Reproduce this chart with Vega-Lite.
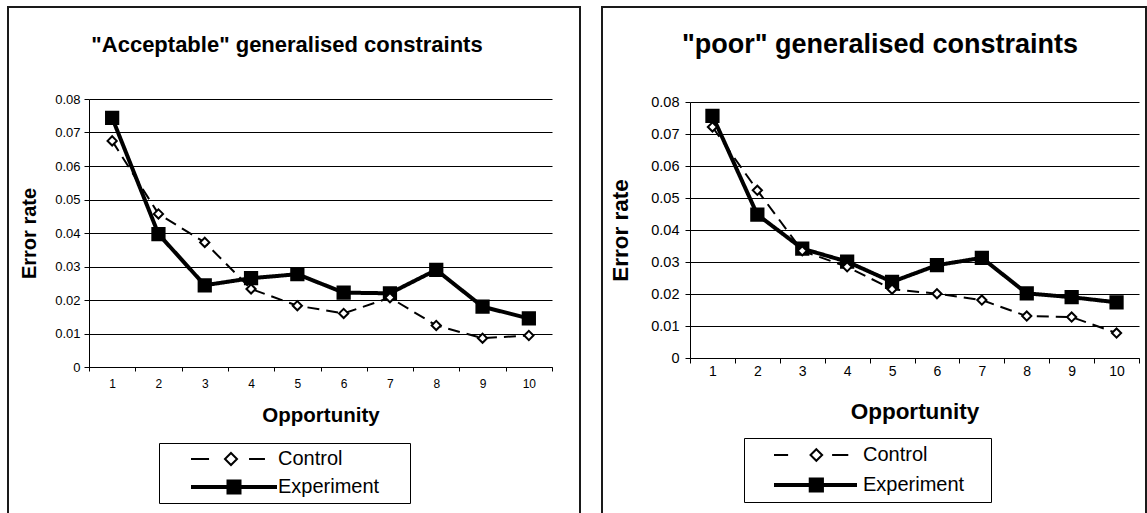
{
  "$schema": "https://vega.github.io/schema/vega-lite/v6.json",
  "padding": {"left": 7, "top": 6, "right": 0, "bottom": 0},
  "spacing": 20,
  "config": {
    "font": "Liberation Sans",
    "view": {"stroke": "#1a1a1a", "strokeWidth": 2},
    "axis": {
      "labelColor": "black", "titleColor": "black", "domainColor": "black", "tickColor": "black",
      "labelFont": "Liberation Sans", "titleFont": "Liberation Sans",
      "gridColor": "black", "gridOpacity": 1, "gridWidth": 1, "domainWidth": 1, "tickWidth": 1
    },
    "title": {"font": "Liberation Sans", "color": "black", "fontWeight": "bold"}
  },
  "datasets": {
    "acc": [
      {"opp": 1, "series": "Experiment", "rate": 0.0744},
      {"opp": 2, "series": "Experiment", "rate": 0.0397},
      {"opp": 3, "series": "Experiment", "rate": 0.0244},
      {"opp": 4, "series": "Experiment", "rate": 0.0265},
      {"opp": 5, "series": "Experiment", "rate": 0.0277},
      {"opp": 6, "series": "Experiment", "rate": 0.0222},
      {"opp": 7, "series": "Experiment", "rate": 0.022},
      {"opp": 8, "series": "Experiment", "rate": 0.029},
      {"opp": 9, "series": "Experiment", "rate": 0.018},
      {"opp": 10, "series": "Experiment", "rate": 0.0145},
      {"opp": 1, "series": "Control", "rate": 0.0675},
      {"opp": 2, "series": "Control", "rate": 0.0457},
      {"opp": 3, "series": "Control", "rate": 0.0372},
      {"opp": 4, "series": "Control", "rate": 0.0233},
      {"opp": 5, "series": "Control", "rate": 0.0183},
      {"opp": 6, "series": "Control", "rate": 0.016},
      {"opp": 7, "series": "Control", "rate": 0.0207},
      {"opp": 8, "series": "Control", "rate": 0.0124},
      {"opp": 9, "series": "Control", "rate": 0.0086},
      {"opp": 10, "series": "Control", "rate": 0.0094}
    ],
    "poor": [
      {"opp": 1, "series": "Experiment", "rate": 0.0757},
      {"opp": 2, "series": "Experiment", "rate": 0.0448},
      {"opp": 3, "series": "Experiment", "rate": 0.0342},
      {"opp": 4, "series": "Experiment", "rate": 0.0301},
      {"opp": 5, "series": "Experiment", "rate": 0.0238},
      {"opp": 6, "series": "Experiment", "rate": 0.029},
      {"opp": 7, "series": "Experiment", "rate": 0.0313},
      {"opp": 8, "series": "Experiment", "rate": 0.0202},
      {"opp": 9, "series": "Experiment", "rate": 0.019},
      {"opp": 10, "series": "Experiment", "rate": 0.0174},
      {"opp": 1, "series": "Control", "rate": 0.0722},
      {"opp": 2, "series": "Control", "rate": 0.0524},
      {"opp": 3, "series": "Control", "rate": 0.0335},
      {"opp": 4, "series": "Control", "rate": 0.0285},
      {"opp": 5, "series": "Control", "rate": 0.0215},
      {"opp": 6, "series": "Control", "rate": 0.0201},
      {"opp": 7, "series": "Control", "rate": 0.0181},
      {"opp": 8, "series": "Control", "rate": 0.0131},
      {"opp": 9, "series": "Control", "rate": 0.0128},
      {"opp": 10, "series": "Control", "rate": 0.0078}
    ]
  },
  "hconcat": [
    {
      "width": 572,
      "height": 520,
      "data": {"name": "acc"},
      "title": {"text": "\"Acceptable\" generalised constraints", "fontSize": 22, "offset": -67, "baseline": "alphabetic", "anchor": "middle", "frame": "group", "dx": -7},
      "encoding": {
        "x": {
          "field": "opp", "type": "ordinal",
          "scale": {"type": "band", "domain": [1,2,3,4,5,6,7,8,9,10], "range": [81, 544], "paddingInner": 0, "paddingOuter": 0},
          "axis": {"offset": -160, "tickBand": "extent", "tickSize": 4, "labelPadding": 7, "labelFontSize": 12, "labelAngle": 0, "title": "Opportunity", "titleFontSize": 20.5, "titleFontWeight": "bold", "titlePadding": 16, "grid": false}
        },
        "y": {
          "field": "rate", "type": "quantitative",
          "scale": {"domain": [0, 0.08], "range": [360, 92], "nice": false, "zero": false},
          "axis": {"values": [0,0.01,0.02,0.03,0.04,0.05,0.06,0.07,0.08], "format": ".2~f", "offset": -81, "tickSize": 5, "labelPadding": 4, "labelFontSize": 13, "title": "Error rate", "titleFontSize": 20, "titleFontWeight": "bold", "titlePadding": 15, "grid": true}
        }
      },
      "layer": [
        {
          "mark": {"type": "line", "color": "black"},
          "encoding": {
            "strokeDash": {"field": "series", "type": "nominal", "scale": {"domain": ["Control", "Experiment"], "range": [[12, 7], [1, 0]]}, "legend": null},
            "strokeWidth": {"field": "series", "type": "nominal", "scale": {"domain": ["Control", "Experiment"], "range": [2, 4]}, "legend": null}
          }
        },
        {
          "mark": {"type": "point", "filled": true, "stroke": "black", "strokeWidth": 2, "opacity": 1},
          "encoding": {
            "shape": {"field": "series", "type": "nominal", "scale": {"domain": ["Control", "Experiment"], "range": ["diamond", "square"]}, "legend": null},
            "fill": {"field": "series", "type": "nominal", "scale": {"domain": ["Control", "Experiment"], "range": ["white", "black"]}, "legend": null},
            "size": {"field": "series", "type": "nominal", "scale": {"domain": ["Control", "Experiment"], "range": [85, 150]}, "legend": null}
          }
        },
        {
          "mark": {"type": "point", "filled": true, "stroke": "black", "opacity": 0},
          "encoding": {
            "shape": {"field": "series", "type": "nominal", "scale": {"domain": ["Control", "Experiment"], "range": ["M-1,0H-0.58M0.35,0H0.72M-0.07,-0.14L0.07,0L-0.07,0.14L-0.21,0Z", "M-1,0H1M-0.128,-0.128H0.128V0.128H-0.128Z"]},
              "legend": {"title": "\u00a0", "titleOrient": "right", "titlePadding": 29, "titleFontSize": 1, "orient": "none", "legendX": 151, "legendY": 436, "padding": 2, "strokeColor": "black", "symbolSize": 7396, "symbolOffset": 28, "labelOffset": -1, "clipHeight": 28, "rowPadding": 0, "labelFontSize": 20, "labelFont": "Liberation Sans", "labelColor": "black", "symbolOpacity": 1}},
            "fill": {"field": "series", "type": "nominal", "scale": {"domain": ["Control", "Experiment"], "range": ["white", "black"]},
              "legend": {"title": "\u00a0", "titleOrient": "right", "titlePadding": 29, "titleFontSize": 1, "orient": "none", "legendX": 151, "legendY": 436, "padding": 2, "strokeColor": "black", "symbolSize": 7396, "symbolOffset": 28, "labelOffset": -1, "clipHeight": 28, "rowPadding": 0, "labelFontSize": 20, "labelFont": "Liberation Sans", "labelColor": "black", "symbolOpacity": 1}},
            "strokeWidth": {"field": "series", "type": "nominal", "scale": {"domain": ["Control", "Experiment"], "range": [2, 4]},
              "legend": {"title": "\u00a0", "titleOrient": "right", "titlePadding": 29, "titleFontSize": 1, "orient": "none", "legendX": 151, "legendY": 436, "padding": 2, "strokeColor": "black", "symbolSize": 7396, "symbolOffset": 28, "labelOffset": -1, "clipHeight": 28, "rowPadding": 0, "labelFontSize": 20, "labelFont": "Liberation Sans", "labelColor": "black", "symbolOpacity": 1}}
          }
        }
      ],
      "resolve": {"scale": {"shape": "independent", "fill": "independent", "strokeWidth": "independent", "strokeDash": "independent", "size": "independent"}}
    },
    {
      "width": 544,
      "height": 520,
      "data": {"name": "poor"},
      "title": {"text": "\"poor\" generalised constraints", "fontSize": 27, "offset": -73, "baseline": "alphabetic", "anchor": "middle", "frame": "group", "dx": 6},
      "encoding": {
        "x": {
          "field": "opp", "type": "ordinal",
          "scale": {"type": "band", "domain": [1,2,3,4,5,6,7,8,9,10], "range": [88, 537], "paddingInner": 0, "paddingOuter": 0},
          "axis": {"offset": -169, "tickBand": "extent", "tickSize": 5, "labelPadding": 1, "labelFontSize": 14, "labelAngle": 0, "title": "Opportunity", "titleFontSize": 22.5, "titleFontWeight": "bold", "titlePadding": 22.5, "grid": false}
        },
        "y": {
          "field": "rate", "type": "quantitative",
          "scale": {"domain": [0, 0.08], "range": [351, 95], "nice": false, "zero": false},
          "axis": {"values": [0,0.01,0.02,0.03,0.04,0.05,0.06,0.07,0.08], "format": ".2~f", "offset": -88, "tickSize": 5, "labelPadding": 6, "labelFontSize": 14.5, "title": "Error rate", "titleFontSize": 22.5, "titleFontWeight": "bold", "titlePadding": 18, "grid": true}
        }
      },
      "layer": [
        {
          "mark": {"type": "line", "color": "black"},
          "encoding": {
            "strokeDash": {"field": "series", "type": "nominal", "scale": {"domain": ["Control", "Experiment"], "range": [[12, 7], [1, 0]]}, "legend": null},
            "strokeWidth": {"field": "series", "type": "nominal", "scale": {"domain": ["Control", "Experiment"], "range": [2, 4]}, "legend": null}
          }
        },
        {
          "mark": {"type": "point", "filled": true, "stroke": "black", "strokeWidth": 2, "opacity": 1},
          "encoding": {
            "shape": {"field": "series", "type": "nominal", "scale": {"domain": ["Control", "Experiment"], "range": ["diamond", "square"]}, "legend": null},
            "fill": {"field": "series", "type": "nominal", "scale": {"domain": ["Control", "Experiment"], "range": ["white", "black"]}, "legend": null},
            "size": {"field": "series", "type": "nominal", "scale": {"domain": ["Control", "Experiment"], "range": [85, 150]}, "legend": null}
          }
        },
        {
          "mark": {"type": "point", "filled": true, "stroke": "black", "opacity": 0},
          "encoding": {
            "shape": {"field": "series", "type": "nominal", "scale": {"domain": ["Control", "Experiment"], "range": ["M-1,0H-0.66M0.4,0H0.79M0.02,-0.14L0.16,0L0.02,0.14L-0.12,0Z", "M-1,0H1M-0.115,-0.135H0.155V0.135H-0.115Z"]},
              "legend": {"title": "\u00a0", "titleOrient": "right", "titlePadding": 25, "titleFontSize": 1, "orient": "none", "legendX": 142, "legendY": 431, "padding": 2, "strokeColor": "black", "symbolSize": 6889, "symbolOffset": 26, "labelOffset": 4, "clipHeight": 30, "rowPadding": 0, "labelFontSize": 20, "labelFont": "Liberation Sans", "labelColor": "black", "symbolOpacity": 1}},
            "fill": {"field": "series", "type": "nominal", "scale": {"domain": ["Control", "Experiment"], "range": ["white", "black"]},
              "legend": {"title": "\u00a0", "titleOrient": "right", "titlePadding": 25, "titleFontSize": 1, "orient": "none", "legendX": 142, "legendY": 431, "padding": 2, "strokeColor": "black", "symbolSize": 6889, "symbolOffset": 26, "labelOffset": 4, "clipHeight": 30, "rowPadding": 0, "labelFontSize": 20, "labelFont": "Liberation Sans", "labelColor": "black", "symbolOpacity": 1}},
            "strokeWidth": {"field": "series", "type": "nominal", "scale": {"domain": ["Control", "Experiment"], "range": [2, 4]},
              "legend": {"title": "\u00a0", "titleOrient": "right", "titlePadding": 25, "titleFontSize": 1, "orient": "none", "legendX": 142, "legendY": 431, "padding": 2, "strokeColor": "black", "symbolSize": 6889, "symbolOffset": 26, "labelOffset": 4, "clipHeight": 30, "rowPadding": 0, "labelFontSize": 20, "labelFont": "Liberation Sans", "labelColor": "black", "symbolOpacity": 1}}
          }
        }
      ],
      "resolve": {"scale": {"shape": "independent", "fill": "independent", "strokeWidth": "independent", "strokeDash": "independent", "size": "independent"}}
    }
  ]
}
